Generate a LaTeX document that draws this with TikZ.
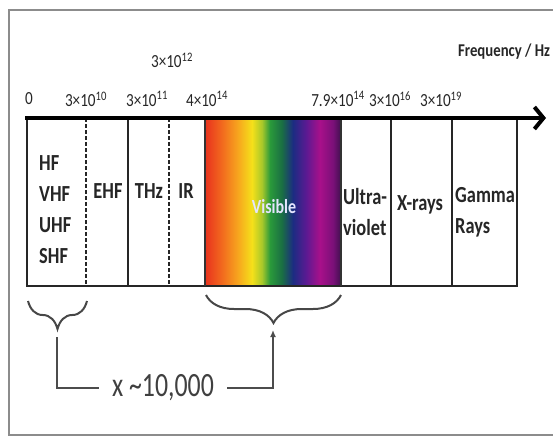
\documentclass[tikz,border=0pt]{standalone}
\usepackage{fontspec}
\setmainfont{Carlito}
\newfontfamily\lblfont[FakeStretch=0.82]{Carlito}
\newfontfamily\bandfont[FakeStretch=0.8]{Carlito}
\newfontfamily\bigfont[FakeStretch=0.76]{Carlito}
\usetikzlibrary{arrows.meta,decorations.pathreplacing}
\definecolor{vred}{HTML}{E8321E}
\definecolor{vora}{HTML}{F26A1E}
\definecolor{vorb}{HTML}{F7A61E}
\definecolor{vyel}{HTML}{F5E01A}
\definecolor{vyg}{HTML}{A8C82A}
\definecolor{vgrn}{HTML}{2A9A3A}
\definecolor{vdg}{HTML}{1A6E44}
\definecolor{vnav}{HTML}{1C2C82}
\definecolor{vpur}{HTML}{5A1A92}
\definecolor{vmag}{HTML}{A8108A}
\definecolor{vdp}{HTML}{7A1078}
\definecolor{vend}{HTML}{40104E}
\begin{document}
\begin{tikzpicture}[x=1pt,y=-1pt,
  lbl/.style={font=\lblfont\fontsize{18.5}{18.5}\selectfont, text=black!85, inner sep=0},
  band/.style={font=\bandfont\bfseries\fontsize{23}{31}\selectfont, text=black!85, inner sep=0, align=left},
  div/.style={line width=2.5pt, draw=black!85},
  dashdiv/.style={div, dash pattern=on 4pt off 2pt},
  brace/.style={decorate, decoration={brace, amplitude=28pt, mirror}, line width=2pt, draw=black!72},
  conn/.style={line width=2pt, draw=black!70}]
\useasboundingbox (0,0) rectangle (553,437);
\clip (0,0) rectangle (553,437);
% outer frame
\draw[black!45, line width=2pt] (560,10) -- (9,10) -- (9,435) -- (560,435);
% visible gradient
\shade[left color=vred, right color=vora] (205,118) rectangle (222,286);
\shade[left color=vora, right color=vorb] (222,118) rectangle (238,286);
\shade[left color=vorb, right color=vyel] (238,118) rectangle (252,286);
\shade[left color=vyel, right color=vyg] (252,118) rectangle (262,286);
\shade[left color=vyg, right color=vgrn] (262,118) rectangle (270,286);
\shade[left color=vgrn, right color=vdg] (270,118) rectangle (282,286);
\shade[left color=vdg, right color=vnav] (282,118) rectangle (293,286);
\shade[left color=vnav, right color=vpur] (293,118) rectangle (306,286);
\shade[left color=vpur, right color=vmag] (306,118) rectangle (320,286);
\shade[left color=vmag, right color=vdp] (320,118) rectangle (333,286);
\shade[left color=vdp, right color=vend] (333,118) rectangle (341,286);
% box and dividers
\draw[div] (27,118) -- (27,286) -- (517,286) -- (517,118);
\draw[dashdiv] (86,118) -- (86,286);
\draw[div] (128,118) -- (128,286);
\draw[dashdiv] (169,118) -- (169,286);
\draw[line width=1.5pt, black!80] (205,118) -- (205,286);
\draw[line width=1.5pt, black!80] (341,118) -- (341,286);
\draw[div] (391,118) -- (391,286);
\draw[div] (452,118) -- (452,286);
% axis
\draw[line width=4pt, black, -{Straight Barb[length=9pt,width=22pt]}] (25,118) -- (546,118);
% frequency labels
\node[lbl] (f0) at (29,99) {0};
\node[lbl] (f1) at (86,99) {3×10\textsuperscript{10}};
\node[lbl] (f2) at (147,99) {3×10\textsuperscript{11}};
\node[lbl] (f3) at (172,60) {3×10\textsuperscript{12}};
\node[lbl] (f4) at (207,99) {4×10\textsuperscript{14}};
\node[lbl] (f5) at (338,99) {7.9×10\textsuperscript{14}};
\node[lbl] (f6) at (390,99) {3×10\textsuperscript{16}};
\node[lbl] (f7) at (441,99) {3×10\textsuperscript{19}};
\node[lbl, font=\lblfont\bfseries\fontsize{18}{18}\selectfont, anchor=west] (fq) at (458,52) {Frequency / Hz};
% band labels
\node[band, anchor=west] (radio) at (39,210) {HF\\VHF\\UHF\\SHF};
\node[band] (ehf) at (108,191) {EHF};
\node[band] (thz) at (149,191) {THz};
\node[band] (ir) at (186,191) {IR};
\node[band, text=white!90!blue, font=\bandfont\bfseries\fontsize{20}{20}\selectfont] (vis) at (274,207) {Visible};
\node[band, anchor=west] (uv) at (343,212) {Ultra-\\violet};
\node[band] (xr) at (420,205) {X-rays};
\node[band, anchor=west] (gam) at (455,212) {Gamma\\Rays};
% braces
\draw[brace] (28,301) -- (87,301);
\draw[brace] (206,295) -- (341,295);
% connector
\coordinate (lbt) at (57,337);
\coordinate (rbt) at (273,330);
\node[font=\bigfont\fontsize{34}{34}\selectfont, text=black!75, inner xsep=13pt, inner ysep=0] (mult) at (163,388) {x \textasciitilde10,000};
\draw[conn] (lbt) |- (mult.west);
\draw[conn, -{Latex[length=7pt,width=6pt]}] (mult.east) -| (rbt);
\end{tikzpicture}
\end{document}
